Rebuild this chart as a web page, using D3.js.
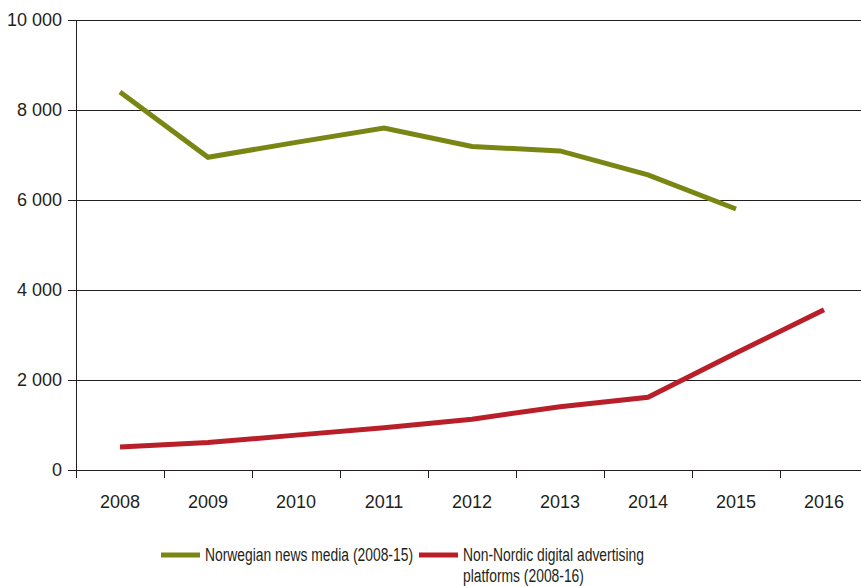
<!DOCTYPE html>
<html>
<head>
<meta charset="utf-8">
<script src="https://cdn.jsdelivr.net/npm/d3@7/dist/d3.min.js"></script>
<style>
  html, body { margin: 0; padding: 0; background: #fff; }
  svg { display: block; font-family: "Liberation Sans", Arial, sans-serif; }
</style>
</head>
<body>
<svg id="chart" width="861" height="586"></svg>
<script>
// Years on the category axis
const years = ["2008", "2009", "2010", "2011", "2012", "2013", "2014", "2015", "2016"];
// Advertising revenue, Norwegian news media (2008-15)
const newsMedia = [8400, 6950, 7280, 7600, 7190, 7090, 6560, 5800];
// Advertising revenue, non-Nordic digital platforms (2008-16)
const digitalPlatforms = [510, 610, 775, 940, 1130, 1405, 1615, 2600, 3560];
// Value axis ticks
const yTicks = [0, 2000, 4000, 6000, 8000, 10000];

const legendLabels = [
  ["Norwegian news media (2008-15)"],
  ["Non-Nordic digital advertising", "platforms (2008-16)"]
];
const seriesColors = ["#7a8614", "#b91f29"];

(function () {
  const svg = d3.select("#chart");
  const plotLeft = 76, plotTop = 20, plotBottom = 470;
  const x = d3.scaleBand().domain(years).range([plotLeft, plotLeft + 88 * years.length]).padding(0);
  const y = d3.scaleLinear().domain([0, 10000]).range([plotBottom, plotTop]);

  const fmt = v => d3.format(",")(v).replace(/,/g, " ");

  // Horizontal gridlines
  svg.append("g")
    .selectAll("line")
    .data(yTicks.filter(d => d > 0))
    .join("line")
    .attr("x1", plotLeft).attr("x2", 861)
    .attr("y1", d => y(d)).attr("y2", d => y(d))
    .attr("stroke", "#231f20").attr("stroke-width", 1)
    .attr("shape-rendering", "crispEdges");

  // Y axis
  const yAxis = svg.append("g")
    .attr("transform", `translate(${plotLeft},0)`)
    .call(d3.axisLeft(y).tickValues(yTicks).tickFormat(fmt).tickSizeOuter(0).tickSize(8).tickPadding(6));
  yAxis.select(".domain").attr("stroke", "#231f20").attr("shape-rendering", "crispEdges");
  yAxis.selectAll(".tick line").attr("stroke", "#231f20").attr("shape-rendering", "crispEdges");
  yAxis.selectAll(".tick text").attr("font-size", 18).attr("fill", "#231f20")
    .attr("font-family", "Liberation Sans, Arial, sans-serif");

  // X axis: ticks on category boundaries
  const xAxis = svg.append("g").attr("transform", `translate(0,${plotBottom})`);
  xAxis.append("line")
    .attr("x1", plotLeft).attr("x2", 861).attr("y1", 0).attr("y2", 0)
    .attr("stroke", "#231f20").attr("shape-rendering", "crispEdges");
  xAxis.selectAll("line.tk")
    .data(years)
    .join("line").attr("class", "tk")
    .attr("x1", d => x(d)).attr("x2", d => x(d))
    .attr("y1", 0).attr("y2", 8)
    .attr("stroke", "#231f20").attr("shape-rendering", "crispEdges");
  xAxis.selectAll("text")
    .data(years)
    .join("text")
    .attr("x", d => x(d) + x.bandwidth() / 2)
    .attr("y", 38)
    .attr("text-anchor", "middle")
    .attr("font-size", 18).attr("fill", "#231f20")
    .text(d => d);

  // Series lines
  const line = d3.line()
    .x((d, i) => x(years[i]) + x.bandwidth() / 2)
    .y(d => y(d));

  [newsMedia, digitalPlatforms].forEach((vals, i) => {
    svg.append("path")
      .datum(vals)
      .attr("d", line)
      .attr("fill", "none")
      .attr("stroke", seriesColors[i])
      .attr("stroke-width", 5)
      .attr("stroke-linejoin", "miter");
  });

  // Legend: condensed set, second entry wraps onto two lines
  const legend = svg.append("g").attr("font-size", 18).attr("fill", "#231f20");
  const legendX = [161, 419];
  const condense = 0.77;
  legendLabels.forEach((lines, i) => {
    legend.append("line")
      .attr("x1", legendX[i]).attr("x2", legendX[i] + 39)
      .attr("y1", 555).attr("y2", 555)
      .attr("stroke", seriesColors[i]).attr("stroke-width", 5);
    lines.forEach((s, k) => {
      const t = legend.append("text")
        .attr("x", legendX[i] + 44)
        .attr("y", 561 + k * 21)
        .text(s);
      const w = t.node().getComputedTextLength();
      t.attr("textLength", w * condense).attr("lengthAdjust", "spacingAndGlyphs");
    });
  });
})();
</script>
</body>
</html>
